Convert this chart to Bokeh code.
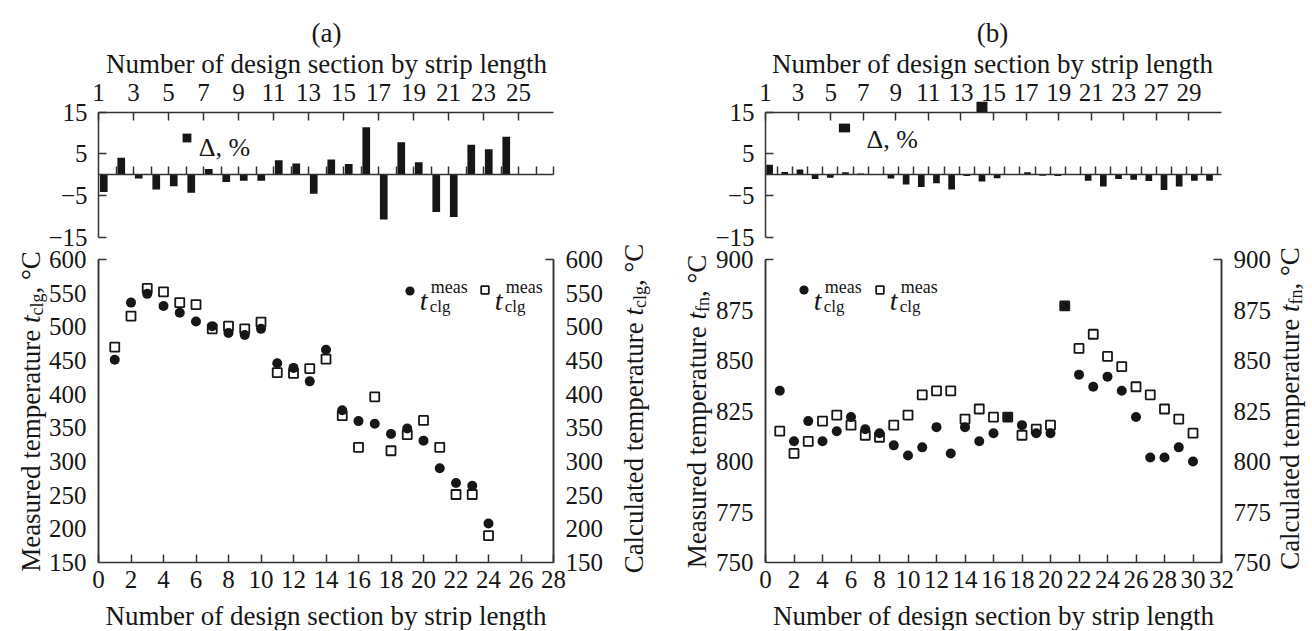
import math
from bokeh.plotting import figure
from bokeh.models import (Range1d, LinearAxis, FixedTicker, Label, Legend, LegendItem,
                          ColumnDataSource)
from bokeh.layouts import row
from bokeh.embed import file_html
from bokeh.resources import INLINE
from bokeh.core.properties import value

# ---------------- data ----------------
# panel (a)
sections_a = list(range(1, 25))
delta_a = [-4.1, 4.1, -0.9, -3.5, -2.7, -4.3, 1.4, -1.7, -1.4, -1.4, 3.5, 2.7,
           -4.5, 3.7, 2.6, 11.4, -10.7, 7.8, 3.0, -8.9, -10.1, 7.2, 6.1, 9.1]
t_meas_a = [451, 536, 549, 531, 521, 508, 501, 491, 488, 497, 446, 439,
            419, 466, 376, 360, 356, 341, 349, 331, 290, 268, 264, 208]
t_calc_a = [470, 516, 557, 552, 536, 533, 497, 501, 497, 507, 432, 431,
            438, 452, 368, 321, 396, 316, 340, 361, 321, 251, 251, 190]

# panel (b)
sections_b = list(range(1, 31))
delta_b = [2.4, 0.7, 1.3, -1.0, -0.7, 0.6, 0.3, 0.2, -0.9, -2.3, -2.9, -2.0, -3.5, -0.3, -1.6,
           -0.8, 0.0, 0.6, -0.2, -0.3, 0.0, -1.4, -2.8, -1.0, -1.2, -1.5, -3.6, -2.8, -1.4, -1.4]
t_meas_b = [835, 810, 820, 810, 815, 822, 816, 814, 808, 803, 807, 817, 804, 817, 810,
            814, 822, 818, 814, 814, 877, 843, 837, 842, 835, 822, 802, 802, 807, 800]
t_calc_b = [815, 804, 810, 820, 823, 818, 813, 812, 818, 823, 833, 835, 835, 821, 826,
            822, 822, 813, 816, 818, 877, 856, 863, 852, 847, 837, 833, 826, 821, 814]
stray_section_b = [15]
stray_value_b = [16.2]

# ticks / tick labels
top_ticks_a = list(range(1, 26, 2))
top_labels_a = ["1", "3", "5", "7", "9", "11", "13", "15", "17", "19", "21", "23", "25"]
top_ticks_b = list(range(1, 28, 2))
top_labels_b = ["1", "3", "5", "7", "9", "11", "13", "15", "17", "19", "21", "23", "27", "29"]
bottom_ticks_a = list(range(0, 29, 2))
bottom_ticks_b = list(range(0, 33, 2))
yticks_a = list(range(150, 601, 50))
yticks_b = list(range(750, 901, 25))
delta_ticks = [-15, -5, 5, 15]
delta_labels = ["\u221215", "\u22125", "5", "15"]

XLABEL = "Number of design section by strip length"

# ---------------- styling ----------------
FONT = "Liberation Serif"
INK = "#161616"
AX = "#333333"
TICK_FS = "25px"
TITLE_FS = 27

ADV = {" ": 250, ",": 250, "\u00b0": 400, "%": 833, "\u0394": 612, "C": 667, "M": 889, "N": 722,
       "a": 444, "b": 500, "c": 444, "d": 500, "e": 444, "f": 333, "g": 500, "h": 500, "i": 278,
       "l": 278, "m": 778, "n": 500, "o": 500, "p": 500, "r": 333, "s": 389, "t": 278, "u": 500,
       "y": 500}


def tw(s, size):
    return sum(ADV.get(c, 500) for c in s) * size / 1000.0


def full_range(lo_px, size_px, f0, fw, r):
    s = fw / (r[1] - r[0])
    start = r[0] - (f0 - lo_px) / s
    return Range1d(start, start + size_px / s)


def full_range_y(top_px, size_px, f0, fh, r):
    s = fh / (r[1] - r[0])
    end = r[1] + (f0 - top_px) / s
    return Range1d(end - size_px / s, end)


def dx(g, px):
    x0, x1 = g["xr"]
    return x0 + (px - g["fl"]) / g["fw"] * (x1 - x0)


def dy(g, py):
    y0, y1 = g["yr"]
    return y1 - (py - g["ft"]) / g["fh"] * (y1 - y0)


def lab(p, g, px, py, text, size, style="normal", align="left", angle=0.0):
    p.add_layout(Label(x=dx(g, px), y=dy(g, py), text=text, text_font=FONT,
                       text_font_size=f"{size}px", text_font_style=style, text_color=INK,
                       text_align=align, text_baseline="alphabetic", angle=angle))


def vtitle(p, g, base_x, center_y, pieces):
    total = sum(tw(t, s) for t, s, st, sh in pieces)
    y = center_y + total / 2.0
    for t, s, st, sh in pieces:
        lab(p, g, base_x + sh, y, t, s, st, angle=math.pi / 2)
        y -= tw(t, s)


def legend_text(p, g, x, base_y, sub):
    lab(p, g, x, base_y, "t", 28, "italic")
    lab(p, g, x + 11, base_y - 14, "meas", 18)
    lab(p, g, x + 10, base_y + 6, sub, 17)


def glyph_legend(p, box, r, cx, cy, gw, gh):
    left, top, width, height = box
    leg = Legend(items=[LegendItem(label=value(" "), renderers=[r])],
                 location=(cx - left - gw / 2.0, (top + height) - cy - gh / 2.0),
                 glyph_width=gw, glyph_height=gh, label_text_font_size="1px",
                 label_height=0, label_width=0, label_standoff=0, padding=0, margin=0,
                 spacing=0, border_line_color=None, background_fill_alpha=0)
    p.add_layout(leg)


def style_axis(ax, tick_in, standoff):
    ax.axis_line_color = AX
    ax.axis_line_width = 1.5
    ax.major_tick_line_color = AX
    ax.major_tick_line_width = 1.5
    ax.major_tick_in = tick_in
    ax.major_tick_out = 0
    ax.minor_tick_in = 0
    ax.minor_tick_out = 0
    ax.major_label_text_font = FONT
    ax.major_label_text_font_size = TICK_FS
    ax.major_label_text_color = INK
    ax.major_label_standoff = standoff


def panel(box, fl, fw, xr, yr, yticks, xticks, sections, meas, calc, sub,
          bar_xr, bar_x, deltas, zero_ticks, lab_xr, top_ticks, top_labels,
          title, title_x, dleg_c, dleg_wh, dleg_text, left_base, right_base, xlabel_cx,
          leg_circ, leg_sq):
    left, top, width, height = box
    g = dict(fl=fl, fw=fw, xr=xr, ft=259, fh=303, yr=yr)
    p = figure(width=width, height=height,
               x_range=full_range(left, width, fl, fw, xr),
               y_range=full_range_y(top, height, 259, 303, yr),
               x_axis_location=None, y_axis_location=None, toolbar_location=None,
               output_backend="svg", title_location=None)
    p.min_border_left = 0
    p.min_border_right = 0
    p.min_border_top = 0
    p.min_border_bottom = 0
    p.grid.visible = False
    p.outline_line_color = None
    p.background_fill_color = "white"
    p.border_fill_color = "white"

    # ranges of the upper (deviation) chart
    p.extra_x_ranges = {"bx": full_range(left, width, fl, fw, bar_xr)}
    p.extra_y_ranges = {"dy": full_range_y(top, height, 111.7, 125.3, (-15, 15))}
    lab_name = "bx"
    top_bounds = bar_xr
    if lab_xr is not None:
        p.extra_x_ranges["lab"] = full_range(left, width, fl, fw, lab_xr)
        lab_name = "lab"
        top_bounds = lab_xr

    # ---- upper chart: deviation bars ----
    bsrc = ColumnDataSource(dict(x=bar_x, d=deltas))
    bars = p.vbar(x="x", top="d", bottom=0, width=0.44, source=bsrc,
                  fill_color=INK, line_color=None, x_range_name="bx", y_range_name="dy")
    ya = LinearAxis(ticker=FixedTicker(ticks=delta_ticks), bounds=(-15, 15),
                    fixed_location=bar_xr[0], x_range_name="bx", y_range_name="dy",
                    major_label_overrides=dict(zip(delta_ticks, delta_labels)))
    style_axis(ya, 8, 11)
    p.add_layout(ya, "left")
    ta = LinearAxis(ticker=FixedTicker(ticks=top_ticks), fixed_location=15,
                    bounds=top_bounds, x_range_name=lab_name, y_range_name="dy",
                    major_label_overrides=dict(zip(top_ticks, top_labels)))
    style_axis(ta, 8, 11)
    p.add_layout(ta, "above")
    za = LinearAxis(ticker=FixedTicker(ticks=zero_ticks), fixed_location=0, bounds=bar_xr,
                    x_range_name="bx", y_range_name="dy")
    style_axis(za, 8, 0)
    za.major_label_text_color = None
    p.add_layout(za, "below")

    # ---- lower chart: temperatures ----
    src = ColumnDataSource(dict(s=sections, m=meas, c=calc))
    rc = p.scatter(x="s", y="m", source=src, marker="circle", size=10,
                   fill_color=INK, line_color=None)
    rs = p.scatter(x="s", y="c", source=src, marker="square", size=9,
                   fill_color=None, line_color=INK, line_width=1.8)
    for side, loc in (("left", xr[0]), ("right", xr[1])):
        ax = LinearAxis(ticker=FixedTicker(ticks=yticks), fixed_location=loc, bounds=yr)
        style_axis(ax, 0, 12)
        p.add_layout(ax, side)
        # single inner tick at the top end
        tk = LinearAxis(ticker=FixedTicker(ticks=[yr[1]]), fixed_location=loc, bounds=yr)
        style_axis(tk, 8, 0)
        tk.major_label_text_color = None
        p.add_layout(tk, side)
    xa = LinearAxis(ticker=FixedTicker(ticks=xticks), fixed_location=yr[0], bounds=xr)
    style_axis(xa, 8, 8)
    p.add_layout(xa, "below")

    # ---- texts ----
    lab(p, g, title_x, 32, title, TITLE_FS, align="center")
    lab(p, g, title_x, 63.3, XLABEL, TITLE_FS, align="center")
    glyph_legend(p, box, bars, dleg_c[0], dleg_c[1], dleg_wh[0], dleg_wh[1])
    lab(p, g, dleg_text[0], dleg_text[1], "\u0394, %", 26)
    vtitle(p, g, left_base, 411, [("Measured temperature ", TITLE_FS, "normal", 0),
                                  ("t", TITLE_FS, "italic", 0), (sub, 18, "normal", 6),
                                  (", \u00b0C", TITLE_FS, "normal", 0)])
    vtitle(p, g, right_base, 408, [("Calculated temperature ", TITLE_FS, "normal", 0),
                                   ("t", TITLE_FS, "italic", 0), (sub, 18, "normal", 6),
                                   (", \u00b0C", TITLE_FS, "normal", 0)])
    lab(p, g, xlabel_cx, 615, XLABEL, TITLE_FS, align="center")
    glyph_legend(p, box, rc, leg_circ[0], leg_circ[1], 23, 23)
    glyph_legend(p, box, rs, leg_sq[0], leg_sq[1], 19, 19)
    legend_text(p, g, leg_circ[0] + 10, 300, "clg")
    legend_text(p, g, leg_sq[0] + 10, 300, "clg")
    return p


BOX_A = (0, 0, 652, 630)
BOX_B = (652, 0, 660, 630)

bar_x_a = [s + 0.3 for s in sections_a]
pa = panel(BOX_A, 98, 455, (0, 28), (150, 600), yticks_a, bottom_ticks_a,
           sections_a, t_meas_a, t_calc_a, "clg",
           (1, 27), bar_x_a, delta_a, list(range(2, 28)), None, top_ticks_a, top_labels_a,
           "(a)", 326, (186.7, 137.8), (11, 11), (198.3, 146.7), 30, 633, 325.5,
           (409.3, 290), (484.3, 289.5))

bar_x_b = [s - 0.5 for s in sections_b]
pb = panel(BOX_B, 765, 456, (0, 32), (750, 900), yticks_b, bottom_ticks_b,
           sections_b, t_meas_b, t_calc_b, "fn",
           (0.23, 30.29), bar_x_b, delta_b, list(range(1, 31)), (1, 29), top_ticks_b,
           top_labels_b, "(b)", 992, (843.8, 127.8), (14, 11), (866, 139.3), 696.5, 1289, 993,
           (803.3, 289.5), (879.3, 289.5))
pb.scatter(x=[s - 0.5 for s in stray_section_b], y=stray_value_b, marker="square",
           size=11, fill_color=INK, line_color=None, x_range_name="bx", y_range_name="dy")

layout = row(pa, pb)
open("out.html", "w").write(file_html(layout, INLINE, "chart"))
